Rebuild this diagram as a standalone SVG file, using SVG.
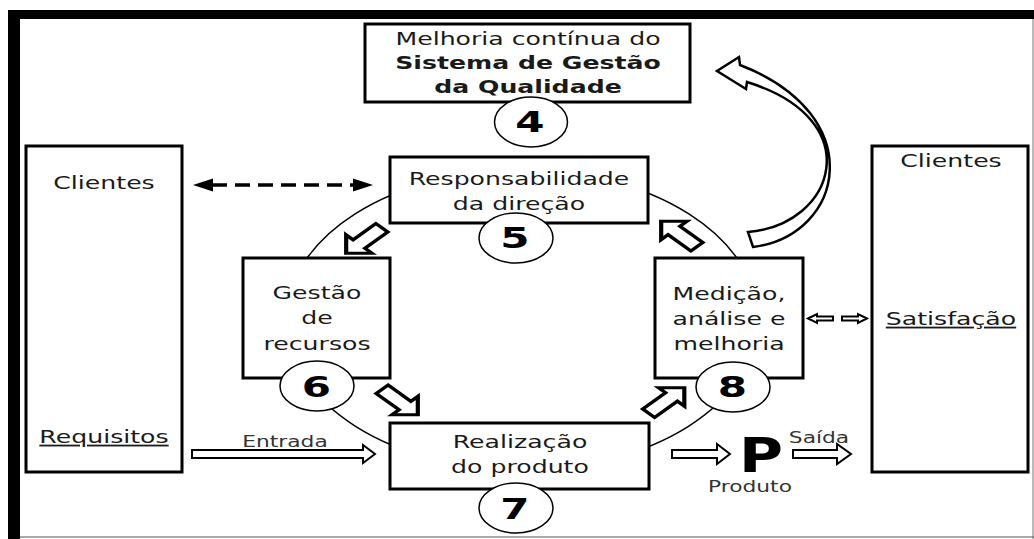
<svg xmlns="http://www.w3.org/2000/svg" width="1034" height="539" viewBox="0 0 1034 539">
<style>
.t{font-family:"DejaVu Sans","Verdana",sans-serif;font-size:18px;fill:#1a1a1a;text-anchor:middle}
.b{font-weight:bold}
.s{font-size:15px;fill:#333}
.d{font-family:"DejaVu Sans","Verdana",sans-serif;font-size:29px;font-weight:bold;fill:#000;text-anchor:middle}
.box{fill:#fff;stroke:#000;stroke-width:3}
.num{fill:#fff;stroke:#000;stroke-width:1.5}
.ba{fill:#fff;stroke:#000;stroke-width:3;stroke-linejoin:miter}
.ha{fill:#fff;stroke:#000;stroke-width:2}
</style>
<defs>
<polygon id="blk" points="-18,-6 5,-6 5,-13 18,0 5,13 5,6 -18,6"/>
</defs>
<rect x="0" y="0" width="1034" height="539" fill="#fff"/>
<g id="frame">
<rect x="8" y="10" width="1026" height="9" fill="#000"/>
<rect x="8" y="10" width="12" height="529" fill="#000"/>
<line x1="1033" y1="19" x2="1033" y2="539" stroke="#777" stroke-width="1"/>
<line x1="20" y1="537" x2="1034" y2="537" stroke="#555" stroke-width="1"/>
</g>
<g id="connectors">
<ellipse cx="522" cy="320" rx="236" ry="150" fill="none" stroke="#000" stroke-width="1.5"/>
<path d="M212,185 H356" stroke="#000" stroke-width="3.5" stroke-dasharray="15 8" fill="none"/>
<polygon points="193,185 213,178.5 213,191.5" fill="#000"/>
<polygon points="373,185 353,178.5 353,191.5" fill="#000"/>
<use href="#blk" class="ba" vector-effect="non-scaling-stroke" transform="translate(364 240.5) scale(1.4 1) rotate(135)"/>
<use href="#blk" class="ba" transform="translate(400 402) scale(1.4 1) rotate(45)"/>
<use href="#blk" class="ba" transform="translate(666.5 400.5) scale(1.4 1) rotate(-45)"/>
<use href="#blk" class="ba" transform="translate(679 234) scale(1.4 1) rotate(-135)"/>
<path d="M748,232 C835,225 870,120 747,82 L746,89 L717,71 L739,57 L740,65 C870,115 845,235 753,247 Z" fill="#fff" stroke="#000" stroke-width="2.5" stroke-linejoin="miter"/>
<polygon class="ha" points="192,450 363,450 363,445 375,454 363,463 363,458 192,458"/>
<polygon class="ha" points="672,450 717,450 717,444 730,454 717,464 717,458 672,458"/>
<polygon class="ha" points="793,450 837,450 837,444 851,454 837,464 837,458 793,458"/>
<polygon class="ha" stroke-width="1.8" points="808,318.5 817,314 817,316.5 833,316.5 833,320.5 817,320.5 817,323"/>
<polygon class="ha" stroke-width="1.8" points="867,318.5 858,314 858,316.5 842,316.5 842,320.5 858,320.5 858,323"/>
<text class="t s" transform="translate(285 447) scale(1.45 1)">Entrada</text>
<text class="t s" transform="translate(819 443) scale(1.45 1)">Saída</text>
</g>
<g id="node-clientes-left">
<rect class="box" x="26" y="146" width="156" height="326"/>
<text class="t" transform="translate(104 189) scale(1.4 1)">Clientes</text>
<text class="t" text-decoration="underline" transform="translate(104 443) scale(1.4 1)">Requisitos</text>
</g>
<g id="node-clientes-right">
<rect class="box" x="872" y="146" width="156" height="326"/>
<text class="t" transform="translate(951 167) scale(1.4 1)">Clientes</text>
<text class="t" text-decoration="underline" transform="translate(951 325) scale(1.4 1)">Satisfação</text>
</g>
<g id="node-4">
<rect class="box" x="365" y="24" width="325" height="78"/>
<text class="t" transform="translate(528 45) scale(1.4 1)">Melhoria contínua do</text>
<text class="t b" transform="translate(528 69) scale(1.4 1)">Sistema de Gestão</text>
<text class="t b" transform="translate(528 93) scale(1.4 1)">da Qualidade</text>
<ellipse class="num" cx="531" cy="122" rx="36.5" ry="25"/>
<text class="d" transform="translate(530 132) scale(1.45 1)">4</text>
</g>
<g id="node-5">
<rect class="box" x="390" y="157" width="258" height="66"/>
<text class="t" transform="translate(519 185) scale(1.4 1)">Responsabilidade</text>
<text class="t" transform="translate(519 210) scale(1.4 1)">da direção</text>
<ellipse class="num" cx="516" cy="238" rx="37" ry="25"/>
<text class="d" transform="translate(515 248) scale(1.45 1)">5</text>
</g>
<g id="node-6">
<rect class="box" x="243" y="258" width="147" height="120"/>
<text class="t" transform="translate(317 299) scale(1.4 1)">Gestão</text>
<text class="t" transform="translate(317 324) scale(1.4 1)">de</text>
<text class="t" transform="translate(317 350) scale(1.4 1)">recursos</text>
<ellipse class="num" cx="317" cy="386" rx="37" ry="25"/>
<text class="d" transform="translate(316.5 397) scale(1.45 1)">6</text>
</g>
<g id="node-7">
<rect class="box" x="390" y="423" width="259" height="66"/>
<text class="t" transform="translate(520 448) scale(1.4 1)">Realização</text>
<text class="t" transform="translate(520 473) scale(1.4 1)">do produto</text>
<ellipse class="num" cx="516" cy="508" rx="37" ry="25"/>
<text class="d" transform="translate(515 519) scale(1.45 1)">7</text>
</g>
<g id="node-8">
<rect class="box" x="655" y="258" width="148" height="120"/>
<text class="t" transform="translate(729 300) scale(1.4 1)">Medição,</text>
<text class="t" transform="translate(729 325) scale(1.4 1)">análise e</text>
<text class="t" transform="translate(729 350) scale(1.4 1)">melhoria</text>
<ellipse class="num" cx="733" cy="387" rx="37" ry="25"/>
<text class="d" transform="translate(732.5 397) scale(1.45 1)">8</text>
</g>
<g id="node-produto">
<text class="d" style="font-size:48px" transform="translate(761 472) scale(1.25 1)">P</text>
<text class="t s" transform="translate(750 492) scale(1.45 1)">Produto</text>
</g>
</svg>
